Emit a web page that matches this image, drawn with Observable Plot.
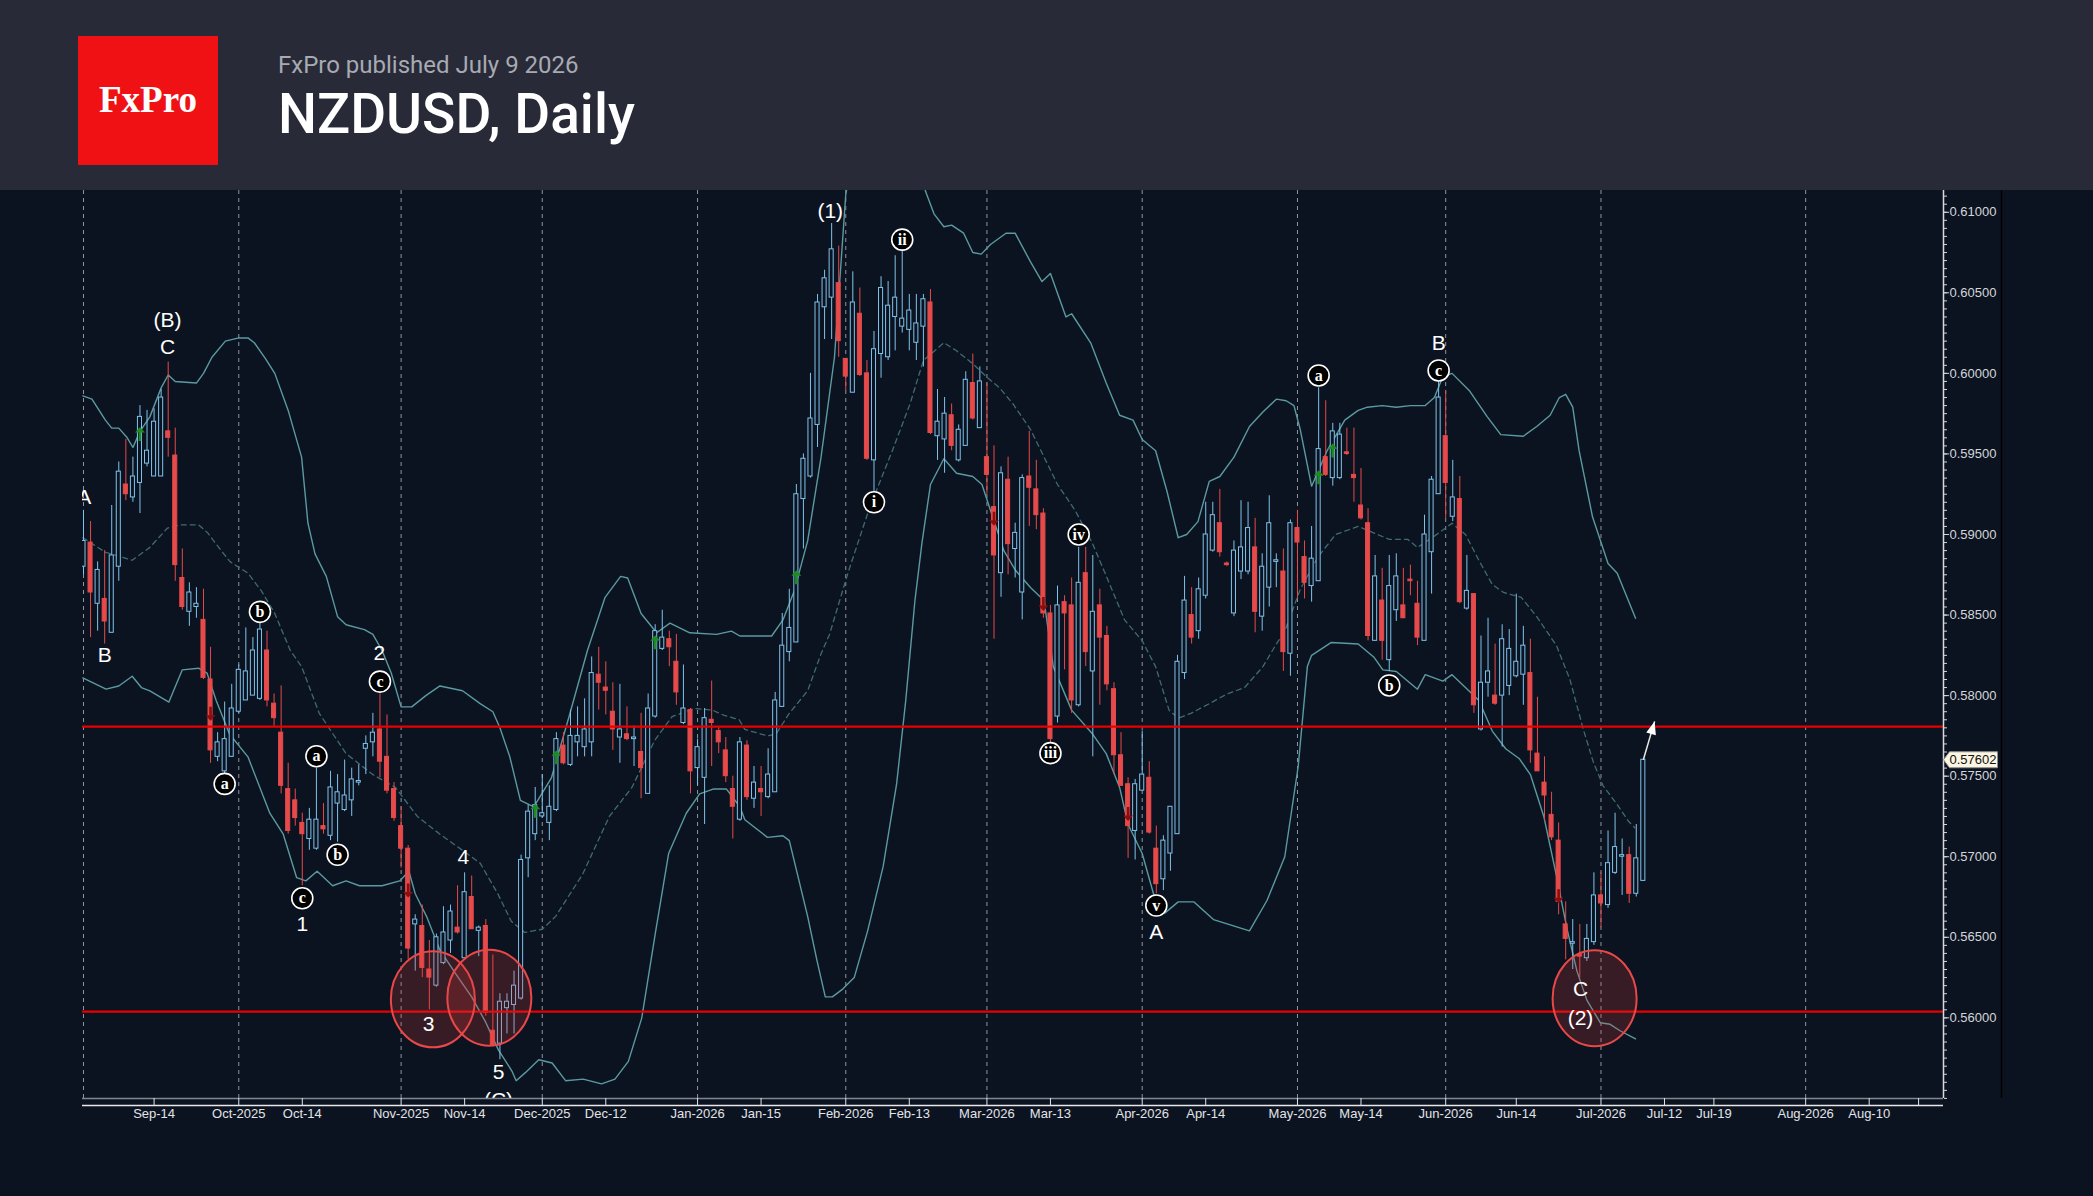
<!DOCTYPE html>
<html>
<head>
<meta charset="utf-8">
<script src="https://cdn.jsdelivr.net/npm/d3@7"></script>
<script src="https://cdn.jsdelivr.net/npm/@observablehq/plot@0.6"></script>
<style>
html, body { margin: 0; padding: 0; background: #0c1320; overflow: hidden; }
#header { display: block; }
#chart svg { display: block; }
</style>
</head>
<body>
<svg id="header" width="2093" height="190" style="background:#282b37">
  <rect x="78" y="36" width="140" height="129" fill="#f01114"></rect>
  <text x="148" y="112" text-anchor="middle" font-family="'Liberation Serif', 'DejaVu Serif', serif" font-weight="bold" font-size="37" fill="#ffffff">FxPro</text>
  <text x="278" y="73" font-family="Roboto, 'Noto Sans', sans-serif" font-size="24" fill="#a7aab3">FxPro published July 9 2026</text>
  <text x="278" y="133" font-family="Roboto, 'Noto Sans', sans-serif" font-weight="500" font-size="55" fill="#ffffff">NZDUSD, Daily</text>
</svg>
<div id="chart"></div>
<script>
// ---------------- DATA (daily bars, index 0 = 1 Sep 2025) ----------------
const open = [
0.5880,0.5895,0.5857,0.5860,0.5839,0.5880,0.5931,0.5923,0.5932,0.5944,
0.5936,0.5936,0.5964,0.5949,0.5873,0.5852,0.5855,0.5847,0.5810,0.5762,
0.5753,0.5762,0.5790,0.5797,0.5800,0.5798,0.5828,0.5795,0.5777,0.5742,
0.5735,0.5721,0.5711,0.5705,0.5719,0.5713,0.5733,0.5729,0.5735,0.5746,
0.5767,0.5771,0.5779,0.5762,0.5742,0.5719,0.5705,0.5658,0.5657,0.5630,
0.5620,0.5634,0.5648,0.5656,0.5637,0.5675,0.5654,0.5657,0.5592,0.5584,
0.5606,0.5608,0.5612,0.5699,0.5714,0.5725,0.5721,0.5729,0.5769,0.5757,
0.5771,0.5768,0.5771,0.5813,0.5805,0.5790,0.5774,0.5776,0.5773,0.5765,
0.5739,0.5787,0.5829,0.5835,0.5821,0.5783,0.5791,0.5755,0.5749,0.5785,
0.5778,0.5766,0.5742,0.5723,0.5769,0.5736,0.5742,0.5737,0.5740,0.5793,
0.5827,0.5833,0.5922,0.5936,0.5968,0.6041,0.6047,0.6056,0.6009,0.5988,
0.6037,0.6000,0.5946,0.6012,0.6010,0.6035,0.6029,0.6027,0.6019,0.6029,
0.6044,0.5961,0.5959,0.5974,0.5946,0.5955,0.5994,0.5966,0.5948,0.5917,
0.5876,0.5934,0.5891,0.5864,0.5936,0.5928,0.5913,0.5851,0.5787,0.5858,
0.5856,0.5794,0.5876,0.5815,0.5856,0.5837,0.5804,0.5763,0.5745,0.5716,
0.5741,0.5749,0.5705,0.5686,0.5702,0.5714,0.5814,0.5850,0.5840,0.5862,
0.5890,0.5907,0.5882,0.5851,0.5877,0.5877,0.5892,0.5849,0.5867,0.5883,
0.5877,0.5826,0.5904,0.5886,0.5868,0.5871,0.5948,0.5935,0.5935,0.5951,
0.5937,0.5918,0.5907,0.5834,0.5859,0.5822,0.5853,0.5856,0.5872,0.5857,
0.5834,0.5889,0.5925,0.5961,0.5911,0.5922,0.5854,0.5863,0.5779,0.5808,
0.5800,0.5800,0.5806,0.5812,0.5813,0.5814,0.5764,0.5746,0.5726,0.5710,
0.5658,0.5646,0.5639,0.5637,0.5647,0.5676,0.5670,0.5690,0.5700,0.5701,
0.5677,0.5685];
const high = [
0.5915,0.5908,0.5883,0.5890,0.5918,0.5945,0.5959,0.5948,0.5980,0.5977,
0.5978,0.5990,0.6007,0.5966,0.5891,0.5870,0.5867,0.5866,0.5830,0.5777,
0.5796,0.5807,0.5819,0.5842,0.5836,0.5846,0.5840,0.5801,0.5806,0.5758,
0.5742,0.5727,0.5730,0.5755,0.5733,0.5753,0.5751,0.5760,0.5755,0.5757,
0.5775,0.5789,0.5801,0.5788,0.5746,0.5731,0.5707,0.5664,0.5670,0.5648,
0.5652,0.5669,0.5670,0.5682,0.5690,0.5688,0.5657,0.5661,0.5639,0.5615,
0.5615,0.5629,0.5701,0.5732,0.5743,0.5751,0.5744,0.5777,0.5777,0.5791,
0.5793,0.5798,0.5824,0.5830,0.5821,0.5808,0.5807,0.5793,0.5781,0.5789,
0.5801,0.5844,0.5853,0.5840,0.5838,0.5819,0.5792,0.5773,0.5792,0.5809,
0.5780,0.5774,0.5750,0.5774,0.5772,0.5756,0.5756,0.5767,0.5802,0.5851,
0.5866,0.5931,0.5950,0.6000,0.6049,0.6064,0.6093,0.6079,0.6009,0.6063,
0.6053,0.6008,0.6026,0.6060,0.6057,0.6073,0.6076,0.6049,0.6049,0.6049,
0.6052,0.5990,0.5985,0.5981,0.5968,0.6001,0.6012,0.6004,0.5994,0.5955,
0.5942,0.5948,0.5907,0.5937,0.5964,0.5946,0.5916,0.5856,0.5868,0.5862,
0.5873,0.5892,0.5892,0.5887,0.5866,0.5843,0.5808,0.5777,0.5749,0.5748,
0.5778,0.5759,0.5719,0.5713,0.5731,0.5825,0.5874,0.5867,0.5873,0.5920,
0.5920,0.5928,0.5883,0.5896,0.5921,0.5920,0.5910,0.5888,0.5924,0.5888,
0.5891,0.5909,0.5915,0.5896,0.5905,0.5991,0.5983,0.5969,0.5969,0.5966,
0.5966,0.5941,0.5916,0.5887,0.5879,0.5887,0.5888,0.5879,0.5881,0.5871,
0.5912,0.5936,0.5995,0.5989,0.5946,0.5936,0.5887,0.5863,0.5837,0.5848,
0.5832,0.5844,0.5841,0.5863,0.5843,0.5835,0.5799,0.5762,0.5740,0.5721,
0.5672,0.5661,0.5658,0.5658,0.5690,0.5690,0.5716,0.5727,0.5711,0.5706,
0.5720,0.5760];
const low = [
0.5875,0.5836,0.5840,0.5832,0.5839,0.5871,0.5921,0.5920,0.5913,0.5942,
0.5936,0.5936,0.5948,0.5871,0.5853,0.5843,0.5848,0.5810,0.5758,0.5759,
0.5751,0.5762,0.5789,0.5797,0.5800,0.5797,0.5793,0.5781,0.5739,0.5714,
0.5719,0.5682,0.5704,0.5704,0.5714,0.5710,0.5709,0.5728,0.5725,0.5744,
0.5751,0.5762,0.5749,0.5739,0.5722,0.5693,0.5636,0.5629,0.5625,0.5605,
0.5619,0.5633,0.5640,0.5652,0.5636,0.5655,0.5638,0.5601,0.5582,0.5574,
0.5590,0.5590,0.5611,0.5687,0.5710,0.5724,0.5710,0.5728,0.5757,0.5756,
0.5762,0.5762,0.5762,0.5791,0.5788,0.5766,0.5758,0.5772,0.5756,0.5736,
0.5739,0.5786,0.5828,0.5818,0.5794,0.5782,0.5739,0.5744,0.5720,0.5756,
0.5764,0.5746,0.5711,0.5722,0.5735,0.5730,0.5725,0.5736,0.5740,0.5793,
0.5821,0.5833,0.5891,0.5935,0.5954,0.6021,0.6021,0.6010,0.5989,0.5988,
0.5998,0.5946,0.5926,0.5997,0.6008,0.6014,0.6025,0.6014,0.6008,0.6004,
0.5962,0.5946,0.5938,0.5952,0.5945,0.5955,0.5971,0.5966,0.5925,0.5835,
0.5861,0.5875,0.5873,0.5847,0.5905,0.5903,0.5848,0.5770,0.5783,0.5816,
0.5789,0.5793,0.5818,0.5762,0.5794,0.5803,0.5751,0.5744,0.5699,0.5698,
0.5741,0.5714,0.5677,0.5679,0.5691,0.5714,0.5810,0.5832,0.5835,0.5860,
0.5889,0.5886,0.5880,0.5849,0.5872,0.5875,0.5839,0.5840,0.5855,0.5867,
0.5815,0.5812,0.5860,0.5860,0.5858,0.5871,0.5936,0.5930,0.5934,0.5949,
0.5920,0.5909,0.5834,0.5834,0.5822,0.5815,0.5846,0.5848,0.5862,0.5831,
0.5834,0.5863,0.5925,0.5910,0.5908,0.5857,0.5853,0.5789,0.5778,0.5799,
0.5794,0.5768,0.5800,0.5811,0.5794,0.5758,0.5753,0.5722,0.5710,0.5664,
0.5636,0.5630,0.5625,0.5635,0.5645,0.5656,0.5668,0.5689,0.5676,0.5671,
0.5675,0.5685];
const close = [
0.5896,0.5864,0.5878,0.5846,0.5887,0.5939,0.5925,0.5936,0.5973,0.5952,
0.5970,0.5985,0.5960,0.5881,0.5855,0.5864,0.5857,0.5811,0.5766,0.5771,
0.5773,0.5792,0.5816,0.5815,0.5828,0.5841,0.5797,0.5786,0.5744,0.5716,
0.5724,0.5714,0.5723,0.5723,0.5717,0.5743,0.5740,0.5738,0.5748,0.5747,
0.5770,0.5777,0.5759,0.5741,0.5724,0.5705,0.5643,0.5661,0.5631,0.5625,
0.5650,0.5653,0.5666,0.5653,0.5678,0.5655,0.5656,0.5603,0.5583,0.5610,
0.5610,0.5620,0.5698,0.5728,0.5732,0.5727,0.5731,0.5773,0.5758,0.5775,
0.5775,0.5779,0.5814,0.5808,0.5803,0.5779,0.5779,0.5773,0.5774,0.5755,
0.5792,0.5840,0.5836,0.5830,0.5802,0.5792,0.5753,0.5768,0.5786,0.5783,
0.5771,0.5750,0.5731,0.5771,0.5737,0.5746,0.5740,0.5751,0.5797,0.5831,
0.5842,0.5925,0.5947,0.5972,0.6044,0.6059,0.6077,0.6020,0.5998,0.6044,
0.5999,0.5947,0.6015,0.6053,0.6042,0.6047,0.6034,0.6039,0.6031,0.6046,
0.5963,0.5970,0.5975,0.5955,0.5965,0.5996,0.5972,0.5995,0.5937,0.5887,
0.5938,0.5894,0.5901,0.5935,0.5929,0.5912,0.5851,0.5773,0.5856,0.5851,
0.5797,0.5870,0.5827,0.5852,0.5836,0.5807,0.5763,0.5744,0.5719,0.5745,
0.5751,0.5715,0.5683,0.5710,0.5731,0.5821,0.5859,0.5836,0.5866,0.5900,
0.5912,0.5889,0.5881,0.5890,0.5892,0.5904,0.5852,0.5880,0.5907,0.5884,
0.5827,0.5907,0.5895,0.5870,0.5885,0.5953,0.5937,0.5964,0.5962,0.5950,
0.5935,0.5910,0.5837,0.5874,0.5834,0.5868,0.5874,0.5848,0.5871,0.5836,
0.5900,0.5934,0.5985,0.5932,0.5923,0.5858,0.5865,0.5794,0.5808,0.5815,
0.5795,0.5835,0.5829,0.5821,0.5831,0.5766,0.5753,0.5738,0.5712,0.5672,
0.5649,0.5647,0.5638,0.5649,0.5676,0.5671,0.5696,0.5706,0.5701,0.5677,
0.5699,0.57602];

// Bollinger band lines (bar index, price)
const upperBandIdx = [-0.1,1.2,3.1,4,5,6.2,7,8,9.4,11,12,13,16,17,18.2,20.1,22,23.3,24.2,25.8,27.1,29,30.9,31.8,32.8,34.4,36,37.2,39.8,41,42.3,43.6,45,46.5,48.5,50.5,53.7,56.2,58,59,60.4,61.9,63.8,66.3,68.8,71.4,73.9,76.1,77.1,79,81.2,83.1,85.9,89.7,91.8,93,97.5,99.1,100.7,102.6,104.5,106.4,108,110,114,117.5,119.3,120.5,121.9,123,124.7,126,127.2,128.5,130.7,132,134.2,135.8,137,139.2,140,142.7,144.9,146.8,148.7,150,151.9,153.5,155.1,156.3,157.9,159.5,161,163,165.2,167.1,169,170.4,171.5,172.4,174,176.2,178.7,180.6,181.9,184,186,188,190.1,191.4,192.6,193.9,196.4,198.9,200.8,204,205.9,207.8,209.1,210,211,211.9,213.8,216,217.3,218.5,219.9];
const upperBand = [0.5986,0.5984,0.5971,0.5966,0.5966,0.5960,0.5954,0.5964,0.5973,0.5991,0.5999,0.5995,0.5994,0.6000,0.6010,0.6020,0.6022,0.6022,0.6019,0.6009,0.6000,0.5977,0.5948,0.5907,0.5888,0.5874,0.5849,0.5844,0.5841,0.5838,0.5828,0.5814,0.5793,0.5793,0.5800,0.5806,0.5803,0.5795,0.5790,0.5780,0.5762,0.5735,0.5731,0.5749,0.5787,0.5828,0.5861,0.5874,0.5873,0.5851,0.5839,0.5845,0.5839,0.5838,0.5840,0.5837,0.5837,0.5847,0.5865,0.5896,0.5948,0.6010,0.6111,0.6160,0.6185,0.6150,0.6113,0.6099,0.6091,0.6092,0.6087,0.6075,0.6074,0.6080,0.6087,0.6087,0.6069,0.6057,0.6062,0.6035,0.6037,0.6019,0.5994,0.5974,0.5971,0.5959,0.5952,0.5927,0.5898,0.5900,0.5908,0.5933,0.5936,0.5948,0.5967,0.5976,0.5984,0.5983,0.5980,0.5965,0.5930,0.5952,0.5971,0.5977,0.5979,0.5980,0.5979,0.5980,0.5980,0.5985,0.5998,0.6000,0.5989,0.5973,0.5962,0.5961,0.5967,0.5974,0.5985,0.5987,0.5979,0.5952,0.5911,0.5882,0.5876,0.5863,0.5848];
const middleBandIdx = [-0.1,3.1,6.9,9.4,11.9,13.8,16.3,17.6,19.5,20.8,23.3,25.2,27.1,29.3,30.9,33.4,37.2,41,44.2,47.3,50.5,53.7,56.2,58.7,60.6,62.5,65,66.9,70.7,74.5,77.7,80.9,83.4,86.5,89.1,90.6,92.9,93.7,96.9,98.1,100,102.6,104.5,105.7,108.3,111.4,114.6,117.1,119,121.9,123.7,126,127.9,129.8,131.7,134.2,136.1,138,140.5,143,145.6,147.5,150,151.9,153.8,155.1,156.9,159.5,162,164.5,167.1,169,170.2,172.4,173.4,174.9,177.4,180.6,182.8,185,187.6,189,191.4,193.9,195.8,197.7,199.6,201.2,203.7,205.9,208.7,210.6,212.5,213.9,215.3,217.2,218.9,219.8];
const middleBand = [0.5898,0.5889,0.5884,0.5892,0.5904,0.5906,0.5906,0.5901,0.5890,0.5883,0.5876,0.5865,0.5851,0.5828,0.5818,0.5789,0.5764,0.5751,0.5743,0.5725,0.5714,0.5704,0.5696,0.5677,0.5660,0.5653,0.5655,0.5663,0.5689,0.5725,0.5743,0.5772,0.5787,0.5792,0.5791,0.5788,0.5785,0.5779,0.5775,0.5776,0.5789,0.5803,0.5826,0.5838,0.5876,0.5917,0.5952,0.5981,0.6008,0.6019,0.6014,0.6006,0.5998,0.5991,0.5981,0.5965,0.5948,0.5931,0.5915,0.5894,0.5867,0.5847,0.5834,0.5818,0.5791,0.5786,0.5789,0.5795,0.5801,0.5805,0.5818,0.5832,0.5840,0.5866,0.5874,0.5886,0.5900,0.5905,0.5901,0.5897,0.5897,0.5892,0.5899,0.5907,0.5900,0.5884,0.5869,0.5864,0.5861,0.5849,0.5831,0.5810,0.5779,0.5759,0.5744,0.5733,0.5722,0.5718];
const lowerBandIdx = [-0.1,3.2,5,6.9,8.2,9.4,12.1,14,16.3,17.5,18.8,20.7,23.3,26.4,28.3,30.2,31.5,33.1,35.3,37.2,39.1,42.3,44.8,46.1,47,48.6,50.5,53.1,55,56.9,58.8,60.7,61.3,62.6,64.5,66.4,68.3,70.8,73.4,75.3,77.2,79.1,81,82.9,85.4,87.3,89.2,91.1,93,93.7,96.9,99.1,100,102.6,103.9,105.1,106.1,107.6,109.2,111.1,113.3,115.2,116.5,117.8,118.8,120,121.9,123.7,126,127.3,128.5,130.4,132,134.2,136.1,137.4,140,143,144.9,146.8,148,150,151.6,153.2,155.1,157.3,160.1,165.2,167.7,170.2,172.1,173.4,174,176.8,180.6,182.8,184.1,186,189,190.1,192.6,193.9,195.8,197.7,199.6,201.5,203.4,205,206.9,208.7,210.2,211.6,213,214.9,216.3,217.7,219.9];
const lowerBand = [0.5811,0.5804,0.5806,0.5812,0.5805,0.5803,0.5796,0.5816,0.5817,0.5814,0.5797,0.5776,0.5762,0.5727,0.5714,0.5687,0.5685,0.5691,0.5682,0.5685,0.5682,0.5682,0.5685,0.5691,0.5677,0.5663,0.5642,0.5625,0.5613,0.5598,0.5580,0.5567,0.5561,0.5566,0.5574,0.5572,0.5561,0.5562,0.5559,0.5562,0.5573,0.5600,0.5652,0.5702,0.5727,0.5739,0.5742,0.5742,0.5731,0.5723,0.5712,0.5713,0.5710,0.5663,0.5636,0.5613,0.5613,0.5618,0.5625,0.5654,0.5694,0.5745,0.5797,0.5859,0.5895,0.5931,0.5947,0.5938,0.5936,0.5931,0.5915,0.5890,0.5878,0.5867,0.5859,0.5818,0.5791,0.5776,0.5764,0.5743,0.5720,0.5702,0.5677,0.5665,0.5672,0.5672,0.5661,0.5654,0.5673,0.5700,0.5756,0.5818,0.5825,0.5833,0.5832,0.5824,0.5816,0.5815,0.5804,0.5813,0.5809,0.5813,0.5805,0.5797,0.5778,0.5767,0.5761,0.5751,0.5725,0.5688,0.5655,0.5629,0.5611,0.5597,0.5596,0.5592,0.5587];

// horizontal levels
const levels = [0.57808, 0.56039];

// signal arrows (bar index, price)
const buyIdx = [8, 64, 67, 81, 101, 175, 177];
const buyAt = [0.59624, 0.57286, 0.57618, 0.58331, 0.58735, 0.59356, 0.59521];
const sellIdx = [18, 46, 129, 136, 148, 209];
const sellAt = [0.57887, 0.56790, 0.59097, 0.58569, 0.57266, 0.56755];

// wave labels
const waveText = ["A","B","(B)","C","2","1","4","3","5","(C)","(1)","A","B","C","(2)"];
const waveIdx = [0.1,3,11.9,11.9,41.9,31,53.8,48.9,58.8,58.8,105.8,152,192,212.1,212.1];
const waveAt = [0.59229,0.58249,0.60327,0.6016,0.58261,0.56578,0.56994,0.55958,0.5566,0.55486,0.61004,0.56531,0.60185,0.56175,0.55995];

// circled sub-wave labels
const subText = ["a","b","c","c","a","b","i","ii","iii","iv","v","a","b","c"];
const subIdx = [20,25,42,31,33,36,112,116,137,141,152,175,185,192];
const subAt = [0.57452,0.5852,0.58087,0.56742,0.57624,0.57012,0.592,0.6083,0.57643,0.5900,0.56697,0.59987,0.58063,0.60018];

// highlighted zones
const zoneIdx = [49.5, 57.5, 214.1];
const zoneAt = [0.56115, 0.56125, 0.56122];

// projection arrow
const projFrom = [221, 0.57602];
const projTo = [222.6, 0.5784];

// time axis
const monthStarts = [0, 22, 45, 65, 87, 108, 128, 150, 172, 193, 215, 244];
const tickIdx = [10,22,31,45,54,65,74,87,96,108,117,128,137,150,159,172,181,193,203,215,224,231,244,253];
const tickText = ["Sep-14","Oct-2025","Oct-14","Nov-2025","Nov-14","Dec-2025","Dec-12","Jan-2026","Jan-15","Feb-2026","Feb-13","Mar-2026","Mar-13","Apr-2026","Apr-14","May-2026","May-14","Jun-2026","Jun-14","Jul-2026","Jul-12","Jul-19","Aug-2026","Aug-10"];
const extraTimeTicks = [260];
const priceTicks = [0.56,0.565,0.57,0.575,0.58,0.585,0.59,0.595,0.60,0.605,0.61];

// ---------------- CHART ----------------
const BG = "#0c1320", BULL = "#7fc3ec", BEAR = "#e64a4a", BAND = "#5b9aa0", TXT = "#d3d6db";
const X_DOMAIN = [-0.142, 263.53], Y_DOMAIN = [0.554995, 0.61135];

const n = open.length;
const bars = d3.range(n).map(i => ({i, o: open[i], h: high[i], l: low[i], c: close[i]}));
const pts = (xs, ys) => xs.map((x, k) => ({x, y: ys[k]}));
const labelOf = new Map(tickIdx.map((d, k) => [d, tickText[k]]));
const minorTicks = d3.range(1110, 1223).map(k => k / 2000);
const lastClose = close[n - 1];

const ellipse = {draw(ctx) {
  const rx = 42, ry = 48, k = 0.5523;
  ctx.moveTo(rx, 0);
  ctx.bezierCurveTo(rx, ry * k, rx * k, ry, 0, ry);
  ctx.bezierCurveTo(-rx * k, ry, -rx, ry * k, -rx, 0);
  ctx.bezierCurveTo(-rx, -ry * k, -rx * k, -ry, 0, -ry);
  ctx.bezierCurveTo(rx * k, -ry, rx, -ry * k, rx, 0);
  ctx.closePath();
}};
const upArrow = {draw(ctx) {
  ctx.moveTo(0, -7); ctx.lineTo(5, -1.5); ctx.lineTo(1.3, -1.5); ctx.lineTo(1.3, 7);
  ctx.lineTo(-1.3, 7); ctx.lineTo(-1.3, -1.5); ctx.lineTo(-5, -1.5); ctx.closePath();
}};
const downArrow = {draw(ctx) {
  ctx.moveTo(0, 7); ctx.lineTo(5, 1.5); ctx.lineTo(1.3, 1.5); ctx.lineTo(1.3, -7);
  ctx.lineTo(-1.3, -7); ctx.lineTo(-1.3, 1.5); ctx.lineTo(-5, 1.5); ctx.closePath();
}};
const head = {draw(ctx) {
  ctx.moveTo(0, 0); ctx.lineTo(5, 13); ctx.lineTo(-5, 13); ctx.closePath();
}};
const tag = {draw(ctx) {
  ctx.moveTo(-27, 0); ctx.lineTo(-21, -8); ctx.lineTo(27, -8); ctx.lineTo(27, 8); ctx.lineTo(-21, 8); ctx.closePath();
}};

const chart = Plot.plot({
  width: 2093,
  height: 1006,
  marginTop: 0,
  marginBottom: 98,
  marginLeft: 82,
  marginRight: 150,
  style: {background: BG, color: TXT, fontFamily: "'Liberation Sans', Arial, sans-serif", fontSize: "13px"},
  x: {type: "linear", domain: X_DOMAIN, label: null},
  y: {type: "linear", domain: Y_DOMAIN, label: null},
  marks: [
    Plot.ruleX(monthStarts, {stroke: "#8e949d", strokeDasharray: "4,4", strokeWidth: 1}),
    Plot.line(pts(upperBandIdx, upperBand), {x: "x", y: "y", stroke: BAND, strokeWidth: 1.4, clip: true}),
    Plot.line(pts(lowerBandIdx, lowerBand), {x: "x", y: "y", stroke: BAND, strokeWidth: 1.4, clip: true}),
    Plot.line(pts(middleBandIdx, middleBand), {x: "x", y: "y", stroke: "#3f6b71", strokeWidth: 1.3, strokeDasharray: "5,4", clip: true}),
    Plot.ruleX(bars, {x: "i", y1: "l", y2: "h", stroke: d => d.c >= d.o ? BULL : BEAR, strokeWidth: 1, clip: true}),
    Plot.rect(bars, {
      x1: d => d.i - 0.5, x2: d => d.i + 0.5, y1: "o", y2: "c",
      insetLeft: 1.5, insetRight: 1.5,
      fill: d => d.c >= d.o ? BG : BEAR,
      stroke: d => d.c >= d.o ? BULL : BEAR,
      strokeWidth: 1, clip: true
    }),
    Plot.ruleY(levels, {stroke: "#e80000", strokeWidth: 2.2, clip: true}),
    Plot.dot(pts(buyIdx, buyAt), {x: "x", y: "y", symbol: upArrow, r: 4, fill: "#1e8c22", stroke: "none", clip: true}),
    Plot.dot(pts(sellIdx, sellAt), {x: "x", y: "y", symbol: downArrow, r: 4, fill: "#8b0d0d", stroke: "none", clip: true}),
    Plot.dot(pts(zoneIdx, zoneAt), {x: "x", y: "y", symbol: ellipse, r: 40, fill: "#e63c3c", fillOpacity: 0.2, stroke: "#e84848", strokeWidth: 2, clip: true}),
    Plot.link([0], {x1: () => projFrom[0], y1: () => projFrom[1], x2: () => projTo[0], y2: () => projTo[1], stroke: "#e8e8e8", strokeWidth: 1.5}),
    Plot.dot([0], {x: () => projTo[0], y: () => projTo[1], symbol: head, r: 5, rotate: 16, fill: "#ffffff", stroke: "none"}),
    Plot.text(waveText, {x: (d, k) => waveIdx[k], y: (d, k) => waveAt[k], text: d => d, fill: "#ffffff", fontSize: 21, fontFamily: "'Liberation Sans', Arial, sans-serif", clip: true}),
    Plot.dot(subText, {x: (d, k) => subIdx[k], y: (d, k) => subAt[k], r: 10.5, fill: "#000000", stroke: "#ffffff", strokeWidth: 1.6, clip: true}),
    Plot.text(subText, {x: (d, k) => subIdx[k], y: (d, k) => subAt[k], text: d => d, fill: "#ffffff", fontSize: 16, fontWeight: "bold", fontFamily: "'Liberation Serif', 'DejaVu Serif', serif", clip: true}),
    Plot.ruleY([Y_DOMAIN[0]], {stroke: "#80868f", strokeWidth: 1.5}),
    Plot.ruleY([Y_DOMAIN[0]], {dy: 7, stroke: "#e6e8eb", strokeWidth: 1.5}),
    Plot.ruleX([X_DOMAIN[1]], {stroke: "#d8dadd", strokeWidth: 1.5}),
    Plot.ruleX([X_DOMAIN[1]], {dx: 58, stroke: "#000000", strokeWidth: 1.5}),
    Plot.axisY(minorTicks, {anchor: "right", tickSize: 3, tickFormat: () => "", stroke: TXT, label: null}),
    Plot.axisY(priceTicks, {anchor: "right", tickSize: 5, tickPadding: 1, tickFormat: d => d.toFixed(5), fill: TXT, stroke: TXT, fontSize: 13, label: null}),
    Plot.axisX(tickIdx, {anchor: "bottom", tickSize: 7, tickPadding: 3, tickFormat: d => labelOf.get(d), fill: "#e2e4e8", stroke: "#e2e4e8", fontSize: 13, label: null}),
    Plot.axisX(extraTimeTicks, {anchor: "bottom", tickSize: 7, tickFormat: () => "", stroke: "#e2e4e8", label: null}),
    Plot.dot([lastClose], {y: d => d, frameAnchor: "right", dx: 27, symbol: tag, r: 5, fill: "#fbf6e1", stroke: "#8e8e8e", strokeWidth: 1}),
    Plot.text([lastClose], {y: d => d, frameAnchor: "right", dx: 6, textAnchor: "start", text: d => d.toFixed(5), fill: "#111111", fontSize: 13})
  ]
});
document.getElementById("chart").appendChild(chart);
</script>
</body>
</html>
